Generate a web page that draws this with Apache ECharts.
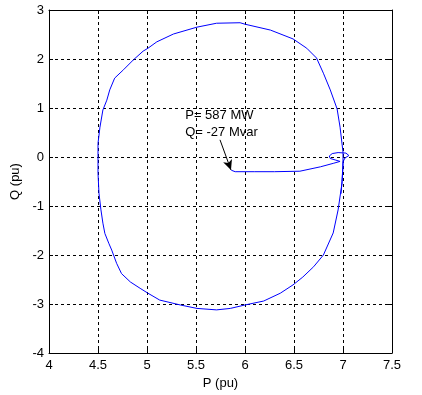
<!DOCTYPE html>
<html>
<head>
<meta charset="utf-8">
<script src="https://cdn.jsdelivr.net/npm/echarts@6/dist/echarts.min.js"></script>
<style>
html,body{margin:0;padding:0;background:#fff;}
#c{width:422px;height:395px;}
</style>
</head>
<body>
<div id="c"></div>
<script>
// Trajectory in the P-Q plane (P in pu, Q in pu)
const pValues = [5.86, 5.90, 6.10, 6.30, 6.56, 6.77, 6.90, 6.97, 6.92, 6.87, 6.86, 6.89, 6.95, 7.03, 7.06, 7.02, 7.00,
  6.99, 6.95, 6.90, 6.80, 6.70, 6.59, 6.49, 6.36, 6.19, 6.00, 5.85, 5.71, 5.51, 5.34, 5.13, 5.01, 4.93, 4.83, 4.74, 4.69,
  4.64, 4.61, 4.57, 4.55, 4.53, 4.51, 4.50, 4.50, 4.50, 4.52, 4.55, 4.59, 4.62, 4.67, 4.76, 4.86, 4.96, 5.01, 5.10, 5.27,
  5.51, 5.71, 5.95, 6.00, 6.26, 6.49, 6.63, 6.73, 6.80, 6.87, 6.94, 6.97, 7.00, 7.00, 6.99, 6.98];
const qValues = [-0.27, -0.30, -0.30, -0.30, -0.29, -0.20, -0.13, -0.09, -0.06, -0.03, 0.02, 0.07, 0.09, 0.08, 0.03, -0.02, -0.10,
  -0.53, -1.08, -1.55, -2.00, -2.24, -2.45, -2.61, -2.78, -2.94, -3.02, -3.09, -3.12, -3.09, -3.02, -2.92, -2.78, -2.68, -2.55, -2.38, -2.17,
  -1.90, -1.76, -1.56, -1.35, -1.08, -0.74, -0.33, 0.00, 0.28, 0.61, 0.96, 1.16, 1.37, 1.61, 1.78, 1.98, 2.16, 2.22, 2.35, 2.51,
  2.65, 2.73, 2.74, 2.71, 2.59, 2.41, 2.22, 2.02, 1.71, 1.37, 0.98, 0.61, 0.10, -0.20, -0.50, -0.75];

// Annotation
const annotationLines = ['P= 587 MW', 'Q= -27 Mvar'];
const annotationTextAt = [5.39, 0.685];
const arrowFrom = [5.745, 0.35];
const arrowTo = [5.857, -0.265];

const xTicks = { min: 4, max: 7.5, interval: 0.5 };
const yTicks = { min: -4, max: 3, interval: 1 };

const trajectory = pValues.map((p, i) => [p, qValues[i]]);
const font = 'Liberation Sans, Arial, sans-serif';

const chart = echarts.init(document.getElementById('c'), null, { renderer: 'canvas' });

const gridLine = { show: true, lineStyle: { color: '#000', width: 1, type: [3, 3] } };
const axisLine = { show: true, onZero: false, lineStyle: { color: '#000', width: 1 } };
const tick = { show: true, inside: true, length: 4, lineStyle: { color: '#000' } };

chart.setOption({
  animation: false,
  backgroundColor: '#ffffff',
  grid: { left: 49, right: 30, top: 10, bottom: 42, containLabel: false },
  xAxis: [{
    type: 'value', min: xTicks.min, max: xTicks.max, interval: xTicks.interval,
    name: 'P (pu)', nameLocation: 'middle', nameGap: 22,
    nameTextStyle: { color: '#000', fontSize: 13, fontFamily: font },
    axisLine, axisTick: tick, splitLine: gridLine,
    axisLabel: { color: '#000', fontSize: 13, fontFamily: font, margin: 6 }
  }, {
    type: 'value', position: 'top', min: xTicks.min, max: xTicks.max, interval: xTicks.interval,
    axisLine, axisTick: tick, splitLine: { show: false }, axisLabel: { show: false }
  }],
  yAxis: [{
    type: 'value', min: yTicks.min, max: yTicks.max, interval: yTicks.interval,
    name: 'Q (pu)', nameLocation: 'middle', nameGap: 25, nameRotate: 90,
    nameTextStyle: { color: '#000', fontSize: 13, fontFamily: font },
    axisLine, axisTick: tick, splitLine: gridLine,
    axisLabel: { color: '#000', fontSize: 13, fontFamily: font, margin: 5 }
  }, {
    type: 'value', position: 'right', min: yTicks.min, max: yTicks.max, interval: yTicks.interval,
    axisLine, axisTick: tick, splitLine: { show: false }, axisLabel: { show: false }
  }],
  series: [{
    type: 'line',
    data: trajectory,
    showSymbol: false,
    smooth: false,
    lineStyle: { color: '#0000ff', width: 1 },
    itemStyle: { color: '#0000ff' },
    z: 3,
    markLine: {
      silent: true,
      symbol: ['none', 'arrow'],
      symbolSize: [7, 10],
      lineStyle: { color: '#000', width: 1, type: 'solid' },
      itemStyle: { color: '#000' },
      label: { show: false },
      data: [[{ coord: arrowFrom }, { coord: arrowTo }]]
    },
    markPoint: {
      silent: true,
      symbol: 'circle',
      symbolSize: 0,
      label: {
        show: true, position: 'right', distance: 0,
        color: '#000', fontSize: 13, fontFamily: font, lineHeight: 17,
        formatter: annotationLines.join('\n')
      },
      data: [{ coord: annotationTextAt }]
    }
  }]
});
</script>
</body>
</html>
